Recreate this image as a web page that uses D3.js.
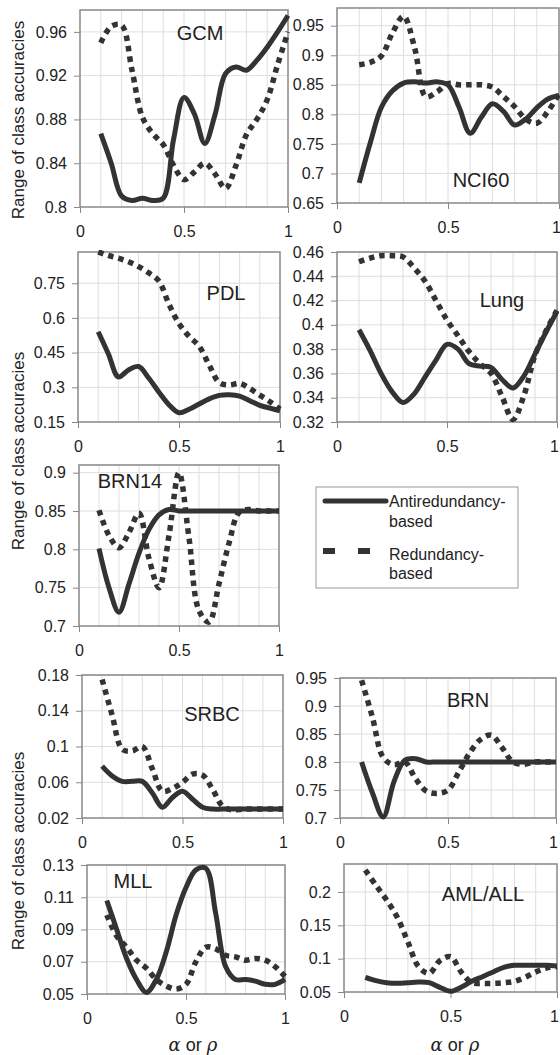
<!DOCTYPE html>
<html>
<head>
<meta charset="utf-8">
<script src="https://cdn.jsdelivr.net/npm/d3@7"></script>
<style>
  body { margin: 0; background: #fff; }
  svg text { font-family: "Liberation Sans", Arial, sans-serif; fill: #222; }
</style>
</head>
<body>
<svg id="chart" width="560" height="1055"></svg>
<script>
// alpha (or rho) values, shared by every panel
const alphas = [0.1, 0.15, 0.2, 0.25, 0.3, 0.35, 0.4, 0.45, 0.5, 0.55,
                0.6, 0.65, 0.7, 0.75, 0.8, 0.85, 0.9, 0.95, 1.0];
const xTicks = [0, 0.5, 1];
const xGrid  = [0.1, 0.2, 0.3, 0.4, 0.5, 0.6, 0.7, 0.8, 0.9];

// Antiredundancy-based (solid) and Redundancy-based (dashed) series
const gcmAnti   = [0.867, 0.840, 0.810, 0.806, 0.808, 0.806, 0.808, 0.862, 0.900, 0.885, 0.858, 0.885, 0.922, 0.928, 0.925, 0.934, 0.946, 0.960, 0.975];
const gcmRed    = [0.950, 0.965, 0.966, 0.925, 0.882, 0.867, 0.857, 0.838, 0.825, 0.832, 0.840, 0.830, 0.817, 0.838, 0.866, 0.880, 0.898, 0.930, 0.960];
const nciAnti   = [0.684, 0.752, 0.812, 0.840, 0.853, 0.855, 0.853, 0.855, 0.850, 0.812, 0.768, 0.795, 0.818, 0.805, 0.782, 0.792, 0.811, 0.826, 0.832];
const nciRed    = [0.884, 0.888, 0.899, 0.938, 0.966, 0.912, 0.830, 0.838, 0.852, 0.850, 0.850, 0.850, 0.846, 0.830, 0.813, 0.792, 0.785, 0.805, 0.835];
const pdlAnti   = [0.540, 0.445, 0.345, 0.375, 0.390, 0.340, 0.280, 0.225, 0.190, 0.205, 0.228, 0.250, 0.265, 0.268, 0.262, 0.242, 0.222, 0.210, 0.198];
const pdlRed    = [0.885, 0.870, 0.858, 0.843, 0.822, 0.795, 0.760, 0.660, 0.575, 0.520, 0.477, 0.395, 0.320, 0.310, 0.317, 0.295, 0.266, 0.238, 0.205];
const lungAnti  = [0.396, 0.379, 0.360, 0.345, 0.336, 0.343, 0.357, 0.371, 0.384, 0.380, 0.368, 0.366, 0.365, 0.355, 0.348, 0.358, 0.376, 0.394, 0.411];
const lungRed   = [0.452, 0.455, 0.457, 0.457, 0.456, 0.447, 0.436, 0.420, 0.404, 0.391, 0.378, 0.368, 0.360, 0.341, 0.322, 0.342, 0.375, 0.395, 0.412];
const brn14Anti = [0.801, 0.750, 0.718, 0.755, 0.795, 0.826, 0.845, 0.852, 0.850, 0.850, 0.850, 0.850, 0.850, 0.850, 0.850, 0.850, 0.850, 0.850, 0.850];
const brn14Red  = [0.851, 0.818, 0.802, 0.822, 0.847, 0.788, 0.750, 0.818, 0.900, 0.815, 0.720, 0.705, 0.755, 0.808, 0.848, 0.852, 0.850, 0.850, 0.850];
const srbcAnti  = [0.078, 0.067, 0.061, 0.061, 0.061, 0.048, 0.032, 0.043, 0.050, 0.041, 0.032, 0.030, 0.030, 0.030, 0.030, 0.030, 0.030, 0.030, 0.030];
const srbcRed   = [0.175, 0.135, 0.097, 0.095, 0.100, 0.075, 0.050, 0.053, 0.060, 0.069, 0.068, 0.052, 0.033, 0.029, 0.030, 0.030, 0.030, 0.030, 0.030];
const brnAnti   = [0.800, 0.745, 0.702, 0.765, 0.803, 0.806, 0.800, 0.800, 0.800, 0.800, 0.800, 0.800, 0.800, 0.800, 0.800, 0.800, 0.800, 0.800, 0.800];
const brnRed    = [0.946, 0.880, 0.808, 0.795, 0.800, 0.770, 0.748, 0.744, 0.750, 0.782, 0.816, 0.840, 0.848, 0.826, 0.800, 0.796, 0.800, 0.800, 0.800];
const mllAnti   = [0.108, 0.090, 0.072, 0.059, 0.051, 0.059, 0.076, 0.099, 0.116, 0.127, 0.128, 0.100, 0.067, 0.059, 0.059, 0.058, 0.056, 0.056, 0.059];
const mllRed    = [0.099, 0.086, 0.079, 0.071, 0.066, 0.059, 0.055, 0.053, 0.056, 0.070, 0.079, 0.078, 0.074, 0.073, 0.071, 0.072, 0.071, 0.067, 0.061];
const amlAnti   = [0.072, 0.067, 0.064, 0.063, 0.064, 0.065, 0.064, 0.057, 0.051, 0.057, 0.066, 0.073, 0.080, 0.087, 0.090, 0.090, 0.090, 0.090, 0.089];
const amlRed    = [0.233, 0.210, 0.188, 0.162, 0.125, 0.088, 0.078, 0.097, 0.103, 0.080, 0.064, 0.063, 0.063, 0.064, 0.066, 0.072, 0.080, 0.086, 0.088];

// y tick labels and axis ranges per panel
const gcmTicks   = [0.8, 0.84, 0.88, 0.92, 0.96];
const nciTicks   = [0.65, 0.7, 0.75, 0.8, 0.85, 0.9, 0.95];
const pdlTicks   = [0.15, 0.3, 0.45, 0.6, 0.75];
const lungTicks  = [0.32, 0.34, 0.36, 0.38, 0.4, 0.42, 0.44, 0.46];
const brn14Ticks = [0.7, 0.75, 0.8, 0.85, 0.9];
const srbcTicks  = [0.02, 0.06, 0.1, 0.14, 0.18];
const brnTicks   = [0.7, 0.75, 0.8, 0.85, 0.9, 0.95];
const mllTicks   = [0.05, 0.07, 0.09, 0.11, 0.13];
const amlTicks   = [0.05, 0.1, 0.15, 0.2];

const panels = [
  { name: 'GCM',     anti: gcmAnti,   red: gcmRed,   ticks: gcmTicks,   yMax: 0.98 },
  { name: 'NCI60',   anti: nciAnti,   red: nciRed,   ticks: nciTicks,   yMax: 0.98 },
  { name: 'PDL',     anti: pdlAnti,   red: pdlRed,   ticks: pdlTicks,   yMax: 0.885 },
  { name: 'Lung',    anti: lungAnti,  red: lungRed,  ticks: lungTicks,  yMax: 0.46 },
  { name: 'BRN14',   anti: brn14Anti, red: brn14Red, ticks: brn14Ticks, yMax: 0.91 },
  { name: 'SRBC',    anti: srbcAnti,  red: srbcRed,  ticks: srbcTicks,  yMax: 0.18 },
  { name: 'BRN',     anti: brnAnti,   red: brnRed,   ticks: brnTicks,   yMax: 0.95 },
  { name: 'MLL',     anti: mllAnti,   red: mllRed,   ticks: mllTicks,   yMax: 0.13 },
  { name: 'AML/ALL', anti: amlAnti,   red: amlRed,   ticks: amlTicks,   yMax: 0.242 }
];

// plot rectangles and title spots (pixels)
const layout = {
  'GCM':     { x0: 80,  x1: 288, y0: 10,  y1: 207, tx: 200, ty: 33 },
  'NCI60':   { x0: 337, x1: 559, y0: 8,   y1: 203, tx: 481, ty: 180 },
  'PDL':     { x0: 78,  x1: 280, y0: 252, y1: 422, tx: 226, ty: 293 },
  'Lung':    { x0: 337, x1: 557, y0: 252, y1: 422, tx: 502, ty: 300 },
  'BRN14':   { x0: 79,  x1: 279, y0: 465, y1: 626, tx: 130, ty: 481 },
  'SRBC':    { x0: 82,  x1: 283, y0: 675, y1: 818, tx: 212, ty: 714 },
  'BRN':     { x0: 340, x1: 556, y0: 678, y1: 818, tx: 468, ty: 700 },
  'MLL':     { x0: 87,  x1: 285, y0: 865, y1: 994, tx: 133, ty: 881 },
  'AML/ALL': { x0: 344, x1: 557, y0: 864, y1: 992, tx: 483, ty: 894 }
};

const INK = '#333';
const svg = d3.select('#chart');
svg.append('rect').attr('width', 560).attr('height', 1055).attr('fill', '#fff');
const defs = svg.append('defs');

panels.forEach((p, i) => {
  const L = layout[p.name];
  const W = L.x1 - L.x0, H = L.y1 - L.y0;
  const x = d3.scaleLinear().domain([0, 1]).range([0, W]);
  const y = d3.scaleLinear().domain([p.ticks[0], p.yMax]).range([H, 0]);

  const g = svg.append('g').attr('transform', `translate(${L.x0},${L.y0})`);

  defs.append('clipPath').attr('id', `clip${i}`)
    .append('rect').attr('x', -2).attr('y', -2).attr('width', W + 4).attr('height', H + 4);

  // grid
  g.selectAll('.vg').data(xGrid).join('line')
    .attr('x1', d => x(d)).attr('x2', d => x(d)).attr('y1', 0).attr('y2', H)
    .attr('stroke', '#dedede').attr('stroke-width', 1);
  g.selectAll('.hg').data(p.ticks.slice(1)).join('line')
    .attr('x1', 0).attr('x2', W).attr('y1', d => y(d)).attr('y2', d => y(d))
    .attr('stroke', '#dedede').attr('stroke-width', 1);

  // axes
  g.append('g')
    .call(d3.axisLeft(y).tickValues(p.ticks).tickSize(6).tickPadding(7).tickFormat(d => String(d)))
    .call(ax => {
      ax.select('.domain').remove();
      ax.selectAll('.tick line').attr('stroke', '#888');
      ax.selectAll('text').style('font-size', '16px').attr('fill', '#222');
    });
  g.append('g')
    .attr('transform', `translate(0,${H})`)
    .call(d3.axisBottom(x).tickValues(xTicks).tickSize(6).tickPadding(12.5).tickFormat(d => String(d)))
    .call(ax => {
      ax.select('.domain').remove();
      ax.selectAll('.tick line').attr('stroke', '#888');
      ax.selectAll('text').style('font-size', '16px').attr('fill', '#222');
      // keep the "1" inside the page on the right-hand column
      if (L.x1 > 550) ax.selectAll('.tick text').filter(d => d === 1).attr('dx', '-3');
    });

  g.append('rect').attr('width', W).attr('height', H)
    .attr('fill', 'none').attr('stroke', '#888').attr('stroke-width', 1.5);

  // series
  const line = d3.line()
    .x((d, j) => x(alphas[j]))
    .y(d => y(d))
    .curve(d3.curveCatmullRom.alpha(0.5));

  const lines = g.append('g').attr('clip-path', `url(#clip${i})`);
  lines.append('path').datum(p.red)
    .attr('d', line).attr('fill', 'none').attr('stroke', INK)
    .attr('stroke-width', 5.5).attr('stroke-dasharray', '5.5,5');
  lines.append('path').datum(p.anti)
    .attr('d', line).attr('fill', 'none').attr('stroke', INK)
    .attr('stroke-width', 5).attr('stroke-linejoin', 'round');

  // panel title
  svg.append('text')
    .attr('x', L.tx).attr('y', L.ty).attr('dy', '0.35em')
    .attr('text-anchor', 'middle').style('font-size', '20px')
    .text(p.name);
});

// y-axis titles
[120, 451, 851].forEach(cy => {
  svg.append('text')
    .attr('transform', `translate(24,${cy}) rotate(-90)`)
    .attr('text-anchor', 'middle').style('font-size', '17px')
    .text('Range of class accuracies');
});

// x-axis titles
[193, 455].forEach(cx => {
  const t = svg.append('text')
    .attr('x', cx).attr('y', 1051)
    .attr('text-anchor', 'middle').style('font-size', '18px');
  t.append('tspan').style('font-family', '"DejaVu Serif", serif').style('font-style', 'italic').text('α');
  t.append('tspan').text(' or ');
  t.append('tspan').style('font-family', '"DejaVu Serif", serif').style('font-style', 'italic').text('ρ');
});

// legend
const lg = svg.append('g');
lg.append('rect').attr('x', 316).attr('y', 487).attr('width', 202).attr('height', 101)
  .attr('fill', '#fff').attr('stroke', '#999').attr('stroke-width', 1);
lg.append('line').attr('x1', 325).attr('x2', 386).attr('y1', 501).attr('y2', 501)
  .attr('stroke', INK).attr('stroke-width', 5).attr('stroke-linecap', 'round');
lg.append('line').attr('x1', 323).attr('x2', 372).attr('y1', 551).attr('y2', 551)
  .attr('stroke', INK).attr('stroke-width', 6).attr('stroke-dasharray', '12,23');
const legendText = [['Antiredundancy-', 507], ['based', 527], ['Redundancy-', 560], ['based', 579]];
legendText.forEach(([s, yy]) => {
  lg.append('text').attr('x', 389).attr('y', yy).style('font-size', '16px').text(s);
});
</script>
</body>
</html>
